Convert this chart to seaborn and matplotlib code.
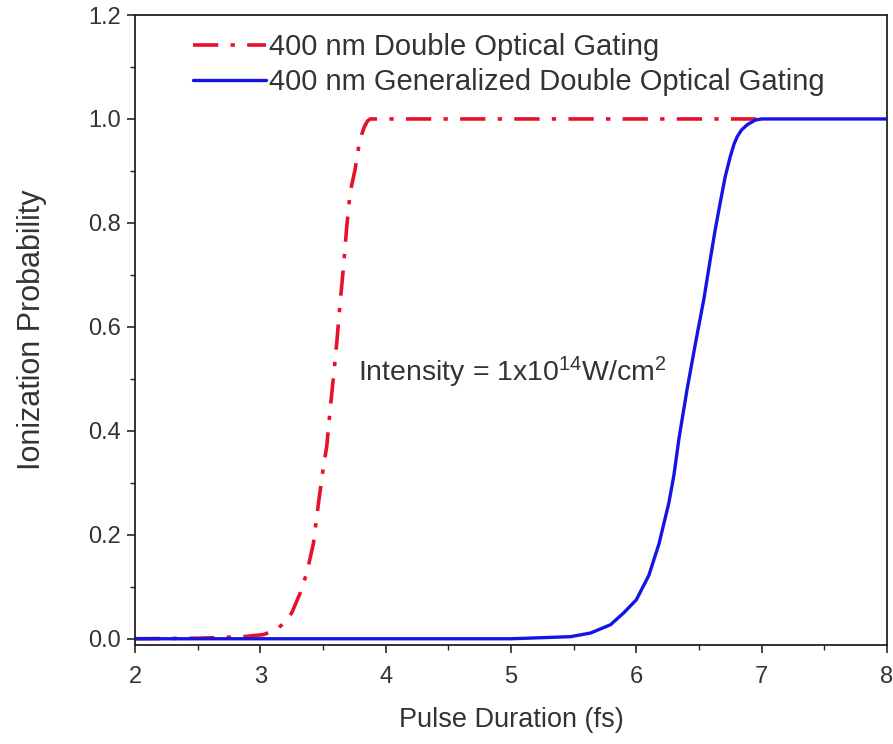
import numpy as np
import pandas as pd
import matplotlib
matplotlib.use("Agg")
import matplotlib.pyplot as plt
import seaborn as sns
from matplotlib.ticker import MultipleLocator

# Data
dog_x = [2.0, 2.5, 2.865, 3.025, 3.1, 3.145, 3.2, 3.251, 3.318, 3.371, 3.424, 3.464,
         3.504, 3.53, 3.557, 3.584, 3.61, 3.637, 3.664, 3.69, 3.717, 3.757, 3.79,
         3.81, 3.83, 3.855, 3.877, 4.0, 5.0, 6.0, 7.0]
dog_y = [0.0, 0.001, 0.004, 0.008, 0.015, 0.021, 0.033, 0.05, 0.088, 0.127, 0.184,
         0.261, 0.332, 0.37, 0.441, 0.505, 0.57, 0.647, 0.717, 0.794, 0.859, 0.904,
         0.955, 0.971, 0.985, 0.996, 1.0, 1.0, 1.0, 1.0, 1.0]

gdog_x = [2.0, 3.0, 4.0, 5.0, 5.474, 5.634, 5.794, 5.90, 6.0, 6.10, 6.18, 6.26,
          6.30, 6.34, 6.405, 6.473, 6.54, 6.59, 6.63, 6.67, 6.71, 6.75, 6.78,
          6.805, 6.84, 6.885, 6.95, 7.0, 7.5, 8.0]
gdog_y = [0.0, 0.0, 0.0, 0.0, 0.004, 0.011, 0.027, 0.05, 0.075, 0.122, 0.182, 0.262,
          0.315, 0.385, 0.48, 0.57, 0.655, 0.73, 0.788, 0.84, 0.89, 0.928, 0.952,
          0.966, 0.979, 0.989, 0.998, 1.0, 1.0, 1.0]

labels = ["400 nm Double Optical Gating", "400 nm Generalized Double Optical Gating"]
xticks = [2, 3, 4, 5, 6, 7, 8]
yticks = [0.0, 0.2, 0.4, 0.6, 0.8, 1.0, 1.2]

sns.set_style("ticks")
plt.rcParams['font.family'] = ['Liberation Sans', 'DejaVu Sans']
plt.rcParams['mathtext.default'] = 'regular'

fig = plt.figure(figsize=(8.93, 7.44), dpi=100)
ax = fig.add_axes([135/893, 1 - 645/744, (887-135)/893, (645-15)/744])

df1 = pd.DataFrame({"x": dog_x, "y": dog_y})
df2 = pd.DataFrame({"x": gdog_x, "y": gdog_y})

sns.lineplot(data=df1, x="x", y="y", ax=ax, color="#e8102a", lw=2.6,
             label=labels[0], sort=False)
ax.lines[-1].set_dashes((7, 3.4, 1.2, 3.4))
sns.lineplot(data=df2, x="x", y="y", ax=ax, color="#1414e6", lw=2.4,
             label=labels[1], sort=False)
for ln in ax.lines:
    ln.set_solid_joinstyle("round")
    ln.set_dash_joinstyle("round")

ax.set_xlim(2, 8)
ax.set_ylim(-0.012, 1.2)
ax.set_xticks(xticks)
ax.set_yticks(yticks)
ax.set_xticklabels([str(t) for t in xticks])
ax.set_yticklabels([f"{t:.1f}" for t in yticks])
ax.xaxis.set_minor_locator(MultipleLocator(0.5))
ax.yaxis.set_minor_locator(MultipleLocator(0.1))
ax.tick_params(which="major", direction="out", length=6, width=1.2,
               labelsize=17, labelcolor="#333333")
ax.tick_params(axis="x", which="major", pad=9)
ax.tick_params(axis="y", which="major", pad=4)
ax.tick_params(which="minor", direction="out", length=3.5, width=1.0)
for s in ax.spines.values():
    s.set_visible(True)
    s.set_linewidth(1.3)
    s.set_color("#222222")

ax.set_xlabel("Pulse Duration (fs)", fontsize=19.5, color="#333333", labelpad=14)
ax.set_ylabel("Ionization Probability", fontsize=22, color="#333333", labelpad=30)

ax.text(3.78, 0.513, r"Intensity = 1x10$^{\mathregular{14}}$W/cm$^{2}$", fontsize=20.5,
        color="#333333", ha="left", va="center")

leg = ax.legend(loc="upper left", bbox_to_anchor=(0.056, 0.997), frameon=False,
                fontsize=21, handlelength=2.5, handletextpad=0.1,
                labelspacing=0.25, borderaxespad=0.15)
for t in leg.get_texts():
    t.set_color("#333333")

fig.savefig("out.png", dpi=100)
